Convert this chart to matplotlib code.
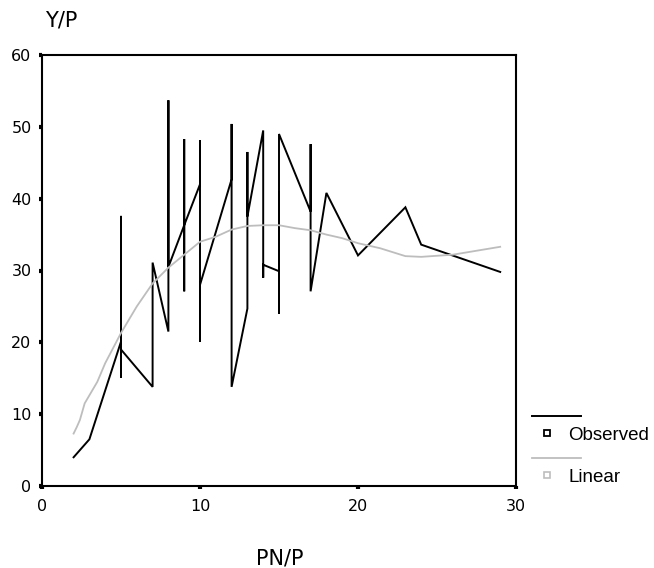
import matplotlib
matplotlib.use("Agg")
import matplotlib.pyplot as plt
from matplotlib.lines import Line2D

# Observed series (points in drawing order, sorted by x)
obs_x = [2, 3, 5, 5, 5, 5, 7, 7, 8, 8, 8, 9, 9, 9, 9, 10, 10, 10, 10,
         12, 12, 12, 13, 13, 13, 14, 14, 14, 15, 15, 15, 15,
         17, 17, 17, 18, 20, 23, 24, 29]
obs_y = [4.0, 6.5, 20.1, 37.6, 15.1, 19.0, 13.8, 31.1, 21.5, 53.7, 30.5,
         36.3, 48.3, 27.1, 36.3, 42.0, 48.1, 20.1, 28.0,
         42.7, 50.4, 13.8, 24.7, 46.5, 37.5, 49.5, 29.0, 30.8,
         29.9, 41.0, 24.0, 49.0, 38.2, 47.6, 27.1, 40.8, 32.1, 38.8, 33.6, 29.8]

# Fitted ("Linear") curve
fit_x = [2.0, 2.2, 2.4, 2.7, 3.5, 4.0, 5, 6, 7, 8, 9, 10, 11, 12, 13, 14, 15,
         16, 17, 18, 19, 20, 21.4, 23, 24, 26, 29]
fit_y = [7.3, 8.2, 9.2, 11.5, 14.5, 17.1, 21.3, 25.0, 28.2, 30.4, 32.2, 34.0,
         34.7, 35.7, 36.2, 36.3, 36.3, 35.9, 35.6, 35.0, 34.5, 33.8, 33.1,
         32.0, 31.9, 32.2, 33.3]

x_ticks = [0, 10, 20, 30]
y_ticks = [0, 10, 20, 30, 40, 50, 60]
x_label = "PN/P"
y_label = "Y/P"
legend_labels = ["Observed", "Linear"]

W, H = 654, 568
fig = plt.figure(figsize=(W / 100, H / 100), dpi=100)

def fx(p):
    return p / W

def fy(p):
    return 1 - p / H

L, R, T, B = 42, 516, 55, 486
ax = fig.add_axes([fx(L), fy(B), fx(R) - fx(L), fy(T) - fy(B)])

ax.plot(obs_x, obs_y, color="black", lw=1.4, solid_joinstyle="miter")
ax.plot(fit_x, fit_y, color="#bdbdbd", lw=1.3)

ax.set_xlim(0, 30)
ax.set_ylim(0, 60)
ax.set_xticks(x_ticks)
ax.set_yticks(y_ticks)
for s in ax.spines.values():
    s.set_linewidth(1.5)
ax.tick_params(direction="out", length=2.5, width=3, labelsize=11.5,
               color="black")
ax.tick_params(axis="y", pad=5)
ax.tick_params(axis="x", pad=7)
for lab in ax.get_xticklabels() + ax.get_yticklabels():
    lab.set_family("DejaVu Sans")

fig.text(fx(61), fy(21), y_label, ha="center", va="center", fontsize=15,
         family="DejaVu Sans")
fig.text(fx(280), fy(558), x_label, ha="center", va="center", fontsize=15,
         family="DejaVu Sans")

# Legend (outside the axes, SPSS style)
fig.add_artist(Line2D([fx(532), fx(581)], [fy(416), fy(416)], color="black",
                      lw=1.4, transform=fig.transFigure))
fig.add_artist(Line2D([fx(547)], [fy(433)], marker="s", markersize=4.5,
                      markerfacecolor="white", markeredgecolor="black",
                      markeredgewidth=1.3, transform=fig.transFigure))
fig.text(fx(568), fy(436), legend_labels[0], ha="left", va="center",
         fontsize=13.5, family="Liberation Sans")
fig.add_artist(Line2D([fx(532), fx(581)], [fy(458), fy(458)], color="#bdbdbd",
                      lw=1.3, transform=fig.transFigure))
fig.add_artist(Line2D([fx(547)], [fy(475)], marker="s", markersize=4.5,
                      markerfacecolor="white", markeredgecolor="#bdbdbd",
                      markeredgewidth=1.2, transform=fig.transFigure))
fig.text(fx(568), fy(478), legend_labels[1], ha="left", va="center",
         fontsize=13.5, family="Liberation Sans")

fig.savefig("out.png", dpi=100)
